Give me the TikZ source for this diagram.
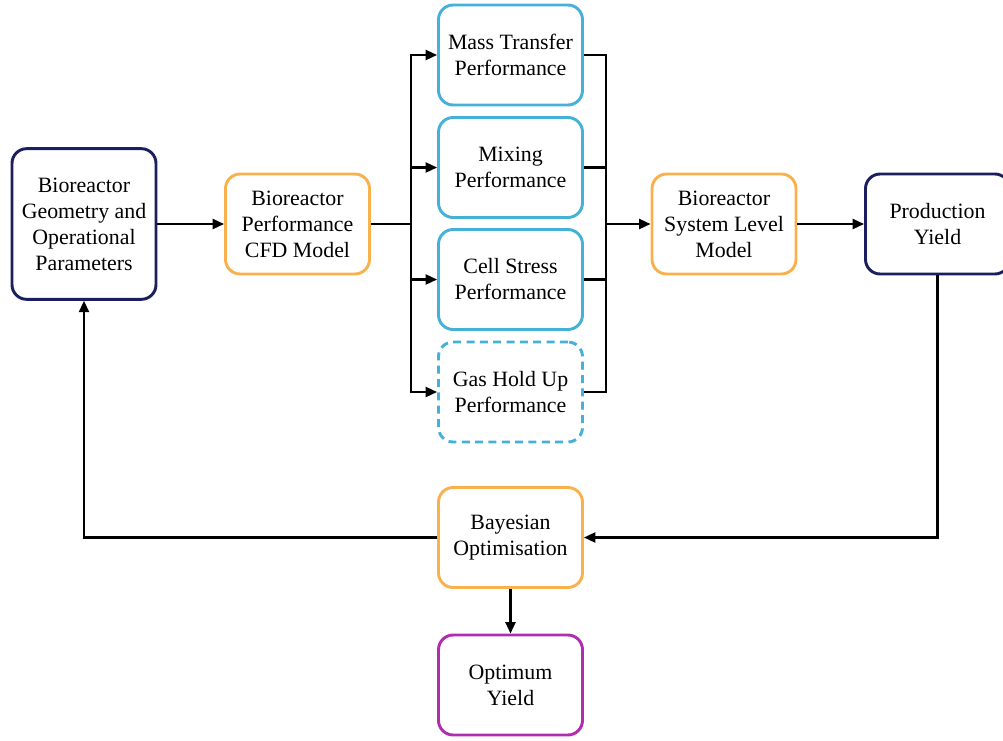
\documentclass[tikz,border=0pt]{standalone}
\usepackage{fontspec}
\setmainfont{Liberation Serif}
\usetikzlibrary{arrows.meta}

\definecolor{navy}{HTML}{1B1F5E}
\definecolor{orng}{HTML}{F9B14D}
\definecolor{skyb}{HTML}{45B1D8}
\definecolor{purp}{HTML}{B02DB0}

\tikzset{
  box/.style={draw, line width=2.2pt, rounded corners=11pt, align=center,
    minimum width=108pt, minimum height=75pt, inner sep=2pt,
    font=\fontsize{16.4}{19.5}\selectfont},
  arr/.style={-{Triangle[length=8.5pt,width=7.5pt]}, line width=1.6pt},
  ln/.style={line width=1.6pt}
}

\begin{document}
\begin{tikzpicture}[x=0.75pt, y=-0.75pt]
            \useasboundingbox (0,0) rectangle (1003,740);
            %boxes
            \node (G) at (84,224) [box, draw=navy, minimum height=113pt] {Bioreactor\\Geometry and\\Operational\\Parameters};
            \node (CFD) at (297.5,224) [box, draw=orng] {Bioreactor\\Performance\\CFD Model};
            \node (MT) at (510.5,55) [box, draw=skyb] {Mass Transfer\\Performance};
            \node (MX) at (510.5,167.5) [box, draw=skyb] {Mixing\\Performance};
            \node (CS) at (510.5,279.5) [box, draw=skyb] {Cell Stress\\Performance};
            \node (GH) at (510.5,392) [box, draw=skyb, dashed, dash pattern=on 6pt off 4pt] {Gas Hold Up\\Performance};
            \node (SL) at (724,224) [box, draw=orng] {Bioreactor\\System Level\\Model};
            \node (PY) at (937.5,224) [box, draw=navy] {Production\\Yield};
            \node (BO) at (510.5,537.5) [box, draw=orng] {Bayesian\\Optimisation};
            \node (OY) at (510.5,685) [box, draw=purp] {Optimum\\Yield};

            \coordinate (L) at (411,224);
            \coordinate (R) at (606,224);

            %arrows
            \draw[arr] (G) -- (CFD);
            \draw[ln] (CFD) -- (L);
            \draw[arr] (L) |- (MT);
            \draw[arr] (L) |- (MX);
            \draw[arr] (L) |- (CS);
            \draw[arr] (L) |- (GH);
            \draw[ln] (MT) -| (R);
            \draw[ln] (MX) -| (R);
            \draw[ln] (CS) -| (R);
            \draw[ln] (GH) -| (R);
            \draw[arr] (R) -- (SL);
            \draw[arr] (SL) -- (PY);
            \draw[arr] (PY.south) |- (BO.east);
            \draw[arr] (BO.west) -| (G.south);
            \draw[arr] (BO) -- (OY);

    \end{tikzpicture}
\end{document}
